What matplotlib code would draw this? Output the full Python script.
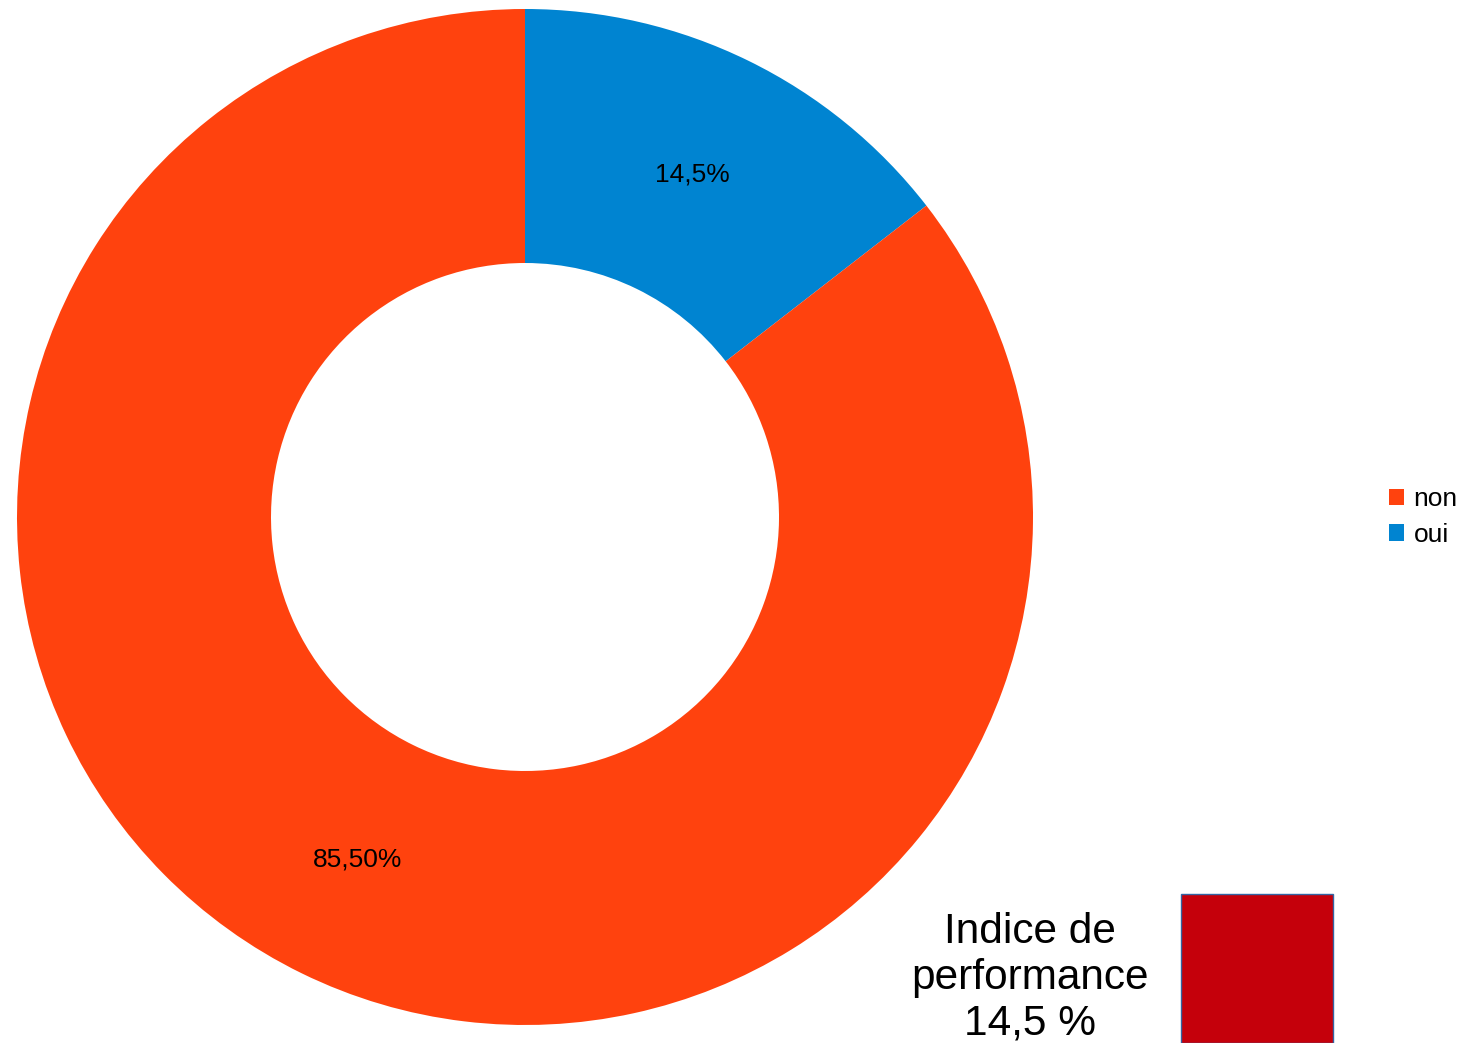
import matplotlib.pyplot as plt
from matplotlib.patches import Patch, Rectangle

plt.rcParams['font.family'] = ['Liberation Sans', 'DejaVu Sans']

# answers and their share (percent)
categories = ['non', 'oui']
shares = [85.5, 14.5]
share_labels = ['85,50%', '14,5%']
colors = ['#FF420E', '#0084D1']
indicator_text = 'Indice de\nperformance\n14,5 %'

W, H = 1477, 1043
fig = plt.figure(figsize=(W / 100, H / 100), dpi=100)

# donut centred at (525, 517) px with outer radius 508 px
cx, cy, r = 525, 517, 508
ax = fig.add_axes([(cx - r) / W, (H - cy - r) / H, 2 * r / W, 2 * r / H])

# draw "oui" first, clockwise from the top
order = [1, 0]
wedges, texts, autotexts = ax.pie(
    [shares[i] for i in order],
    colors=[colors[i] for i in order],
    startangle=90, counterclock=False, radius=1,
    wedgeprops=dict(width=0.5, linewidth=0),
    autopct='%1.1f', pctdistance=0.75,
)
for t, i in zip(autotexts, order):
    t.set_text(share_labels[i])
    t.set_fontsize(19)
    t.set_color('black')
ax.set_xlim(-1, 1)
ax.set_ylim(-1, 1)
ax.axis('off')

handles = [Patch(facecolor=c, edgecolor='none') for c in colors]
fig.legend(handles, categories, loc='center left',
           bbox_to_anchor=(1389 / W, 1 - 517 / H), frameon=False,
           fontsize=19, handlelength=0.58, handleheight=0.58,
           handletextpad=0.35, labelspacing=0.45, borderpad=0,
           borderaxespad=0)

# performance indicator box in the lower right
fig.text(1030 / W, 1 - 978 / H, indicator_text, ha='center', va='center',
         multialignment='center', fontsize=30.5, linespacing=1.18)
fig.patches.append(Rectangle((1181 / W, 0), (1333 - 1181) / W, (H - 894) / H,
                             transform=fig.transFigure, facecolor='#C5000B',
                             edgecolor='#3465A4', linewidth=1))

fig.savefig('out.png', dpi=100)
